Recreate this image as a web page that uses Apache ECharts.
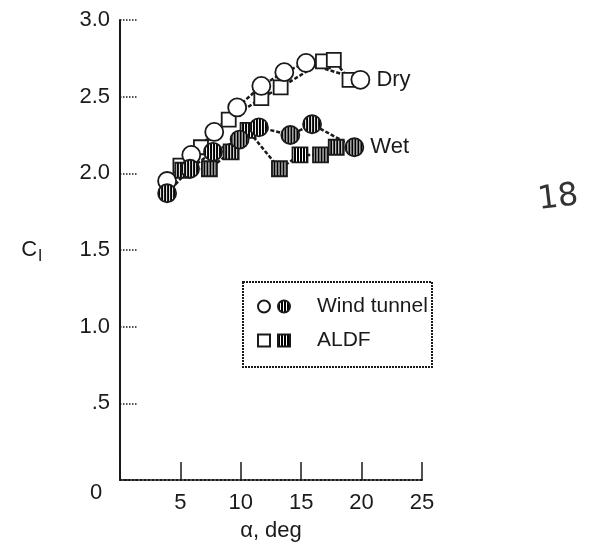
<!DOCTYPE html>
<html>
<head>
<meta charset="utf-8">
<script src="https://cdn.jsdelivr.net/npm/echarts@6/dist/echarts.min.js"></script>
<style>
  html, body { margin: 0; padding: 0; background: #fff; }
  #chart { width: 597px; height: 550px; }
</style>
</head>
<body>
<div id="chart"></div>
<script>
// values
const xTicks = [0, 5, 10, 15, 20, 25]
const yTickLabels = ['', '.5', '1.0', '1.5', '2.0', '2.5', '3.0']

const dryTunnelAlpha = [3.9, 5.9, 7.8, 9.7, 11.7, 13.6, 15.4, 19.9]
const dryTunnelCl = [1.95, 2.12, 2.27, 2.43, 2.57, 2.66, 2.72, 2.61]

const dryAldfAlpha = [5.0, 6.7, 9.0, 11.7, 13.3, 16.8, 17.7, 19.0]
const dryAldfCl = [2.05, 2.17, 2.35, 2.49, 2.56, 2.73, 2.74, 2.61]

const wetTunnelAlpha = [3.9, 5.8, 7.7, 9.9, 11.5, 14.1, 15.9, 19.4]
const wetTunnelCl = [1.87, 2.03, 2.14, 2.22, 2.30, 2.25, 2.32, 2.17]

const wetAldfAlpha = [5.2, 7.4, 9.2, 10.6, 13.2, 14.9, 16.6, 17.9]
const wetAldfCl = [2.02, 2.03, 2.14, 2.28, 2.03, 2.12, 2.12, 2.17]

const pairs = (xs, ys) => xs.map((x, i) => [x, ys[i]])

// vertical hatching like the scanned filled symbols
function hatch() {
  const c = document.createElement('canvas')
  c.width = 3
  c.height = 3
  const ctx = c.getContext('2d')
  ctx.fillStyle = '#fff'
  ctx.fillRect(0, 0, 3, 3)
  ctx.fillStyle = '#000'
  ctx.fillRect(0, 0, 2, 3)
  return c
}
// symbols are drawn as unit paths scaled by size / 2, so undo that on the pattern
function hatchFill(scale) {
  return { image: hatch(), repeat: 'repeat', scaleX: 1 / scale, scaleY: 1 / scale }
}

const font = 'Liberation Sans, Arial, Helvetica, sans-serif'
const ink = '#1a1a1a'

const legendNames = {
  'Wet wind tunnel': 'Wind tunnel',
  'Wet ALDF': 'ALDF'
}

function makeSeries(name, data, symbol, size, hatched, endText) {
  const s = {
    name: name,
    type: 'line',
    data: data,
    symbol: symbol,
    symbolSize: size,
    showAllSymbol: true,
    lineStyle: { color: ink, width: 2.5, type: [4, 2] },
    itemStyle: { color: hatched ? hatchFill(size / 2) : '#fff', borderColor: ink, borderWidth: 1.8 },
    emphasis: { disabled: true },
    z: 3
  }
  if (endText) {
    s.endLabel = {
      show: true,
      formatter: endText,
      distance: 16,
      color: ink,
      fontFamily: font,
      fontSize: 22
    }
  }
  return s
}

const chart = echarts.init(document.getElementById('chart'))

const legendBase = {
  orient: 'horizontal',
  itemWidth: 12,
  itemHeight: 12,
  itemGap: 6,
  selectedMode: false,
  textStyle: { color: ink, fontFamily: font, fontSize: 21, padding: [0, 0, 0, 22] },
  formatter: (name) => legendNames[name] || ''
}

const option = {
  animation: false,
  backgroundColor: '#fff',
  grid: { left: 120, top: 20, width: 302, height: 460 },
  legend: [
    Object.assign({}, legendBase, {
      left: 252, top: 291,
      data: [
        { name: 'Dry wind tunnel', icon: 'circle' },
        { name: 'Wet wind tunnel', icon: 'circle', itemStyle: { color: hatchFill(1) } }
      ]
    }),
    Object.assign({}, legendBase, {
      left: 252, top: 325,
      data: [
        { name: 'Dry ALDF', icon: 'rect' },
        { name: 'Wet ALDF', icon: 'rect', itemStyle: { color: hatchFill(1) } }
      ]
    })
  ],
  xAxis: {
    type: 'value',
    min: 0,
    max: 25,
    interval: 5,
    name: 'α, deg',
    nameLocation: 'middle',
    nameGap: 40,
    nameTextStyle: { color: ink, fontFamily: font, fontSize: 22 },
    axisLine: { lineStyle: { color: ink, width: 2, type: 'dotted' } },
    axisTick: { inside: true, length: 18, lineStyle: { color: ink, width: 1.5 } },
    axisLabel: {
      color: ink, fontFamily: font, fontSize: 22, margin: 12,
      formatter: (v) => (v === 0 ? '' : String(v))
    },
    splitLine: { show: false }
  },
  yAxis: {
    type: 'value',
    min: 0,
    max: 3,
    interval: 0.5,
    name: '{c|C}{l|l}',
    nameLocation: 'middle',
    nameRotate: 0,
    nameGap: 78,
    nameTextStyle: {
      rich: {
        c: { color: ink, fontFamily: font, fontSize: 22 },
        l: { color: ink, fontFamily: font, fontSize: 17, padding: [12, 0, 0, 1] }
      }
    },
    axisLine: { lineStyle: { color: ink, width: 2 } },
    axisTick: { inside: true, length: 18, lineStyle: { color: ink, width: 1.5, type: 'dotted' } },
    axisLabel: {
      color: ink, fontFamily: font, fontSize: 22, margin: 10,
      formatter: (v) => yTickLabels[Math.round(v * 2)]
    },
    splitLine: { show: false }
  },
  graphic: [
    {
      type: 'text',
      left: 90, top: 482,
      style: { text: String(xTicks[0]), fill: ink, font: '22px ' + font }
    },
    {
      type: 'rect',
      shape: { x: 243, y: 282, width: 189, height: 85 },
      style: { fill: 'none', stroke: ink, lineWidth: 2, lineDash: [2, 1] },
      z: 1
    },
    {
      type: 'text',
      left: 536, top: 180,
      rotation: 0.12,
      style: { text: '18', fill: '#333', font: '32px DejaVu Sans' }
    }
  ],
  series: [
    makeSeries('Dry ALDF', pairs(dryAldfAlpha, dryAldfCl), 'rect', 14, false),
    makeSeries('Dry wind tunnel', pairs(dryTunnelAlpha, dryTunnelCl), 'circle', 18, false, 'Dry'),
    makeSeries('Wet ALDF', pairs(wetAldfAlpha, wetAldfCl), 'rect', 15, true),
    makeSeries('Wet wind tunnel', pairs(wetTunnelAlpha, wetTunnelCl), 'circle', 18, true, 'Wet')
  ]
}

chart.setOption(option)
</script>
</body>
</html>
